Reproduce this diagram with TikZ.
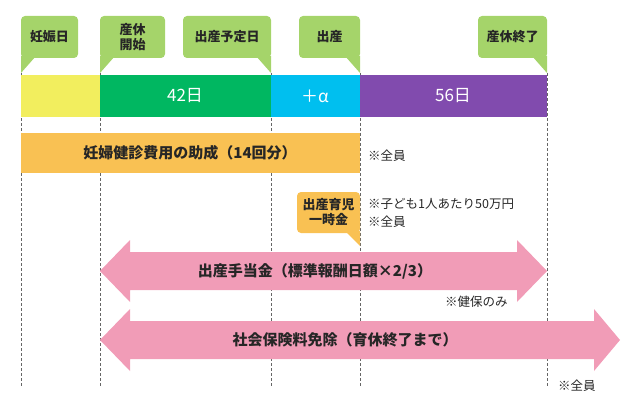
\documentclass[tikz,border=0pt]{standalone}
\usepackage{fontspec}
\setmainfont{Noto Sans CJK JP}
\begin{document}
\begin{tikzpicture}[x=1pt,y=-1pt,
  lbl/.style={font=\fontsize{13}{15}\selectfont\bfseries, text=black!85, align=center, inner sep=0pt},
  big/.style={font=\fontsize{15}{17}\selectfont\bfseries, text=black!85, inner sep=0pt},
  note/.style={font=\fontsize{12.5}{15}\selectfont, text=black!85, anchor=west, inner sep=0pt},
  bartxt/.style={font=\fontsize{17}{19}\selectfont, text=white, inner sep=0pt},
  guide/.style={densely dashed, gray!80!black, line width=0.6pt}]
\definecolor{cg}{HTML}{A5D46A}\definecolor{cy}{HTML}{F2EE5E}\definecolor{cgr}{HTML}{00B761}
\definecolor{cc}{HTML}{00BFEF}\definecolor{cp}{HTML}{814BAE}\definecolor{co}{HTML}{F9C153}
\definecolor{cpk}{HTML}{F19CB7}
\useasboundingbox (0,0) rectangle (640,409);
\foreach \x in {21,100,271,360,547} \draw[guide] (\x,73) -- (\x,387);
% bar
\fill[cy] (21,75) rectangle (100,117);
\fill[cgr] (100,75) rectangle (271,117);
\fill[cc] (271,75) rectangle (360,117);
\fill[cp] (360,75) rectangle (547,117);
\node[bartxt] (d42) at (185,96) {42日};
\node[bartxt] (da) at (315,96) {＋α};
\node[bartxt] (d56) at (453,96) {56日};
% callouts
\fill[cg,rounded corners=4pt] (21,16) rectangle (78,58);
\fill[cg] (21,56) -- (36,56) -- (21,73) -- cycle;
\node[lbl] (c1) at (49.5,37) {妊娠日};
\fill[cg,rounded corners=4pt] (100,16) rectangle (165,58);
\fill[cg] (100,56) -- (115,56) -- (100,73) -- cycle;
\node[lbl] (c2) at (132.5,37) {産休\\開始};
\fill[cg,rounded corners=4pt] (183,16) rectangle (271,58);
\fill[cg] (271,56) -- (256,56) -- (271,73) -- cycle;
\node[lbl] (c3) at (227,37) {出産予定日};
\fill[cg,rounded corners=4pt] (299,16) rectangle (360,58);
\fill[cg] (360,56) -- (345,56) -- (360,73) -- cycle;
\node[lbl] (c4) at (329.5,37) {出産};
\fill[cg,rounded corners=4pt] (478,16) rectangle (547,58);
\fill[cg] (547,56) -- (532,56) -- (547,73) -- cycle;
\node[lbl] (c5) at (512.5,37) {産休終了};
% subsidy
\fill[co] (21,133) rectangle (360,173);
\node[big] (sub) at (190,153) {妊婦健診費用の助成（14回分）};
\node[note] (n1) at (368,156) {※全員};
% lump sum
\fill[co,rounded corners=4pt] (297,192) rectangle (360,233);
\fill[co] (360,231) -- (345,231) -- (360,246) -- cycle;
\node[lbl] (ls) at (328.5,212.5) {出産育児\\一時金};
\node[note] (n2) at (368,204) {※子ども1人あたり50万円};
\node[note] (n3) at (368,222) {※全員};
% arrow 1
\fill[cpk] (100,271) -- (130,240) -- (130,252) -- (517,252) -- (517,240) -- (547,271) -- (517,302) -- (517,290) -- (130,290) -- (130,302) -- cycle;
\node[big] (a1) at (315,271) {出産手当金（標準報酬日額×2/3）};
\node[note] (n4) at (445,302) {※健保のみ};
% arrow 2
\fill[cpk] (100,340) -- (130,309) -- (130,321) -- (594,321) -- (594,309) -- (620,340) -- (594,371) -- (594,359) -- (130,359) -- (130,371) -- cycle;
\node[big] (a2) at (345,340) {社会保険料免除（育休終了まで）};
\node[note] (n5) at (558,386) {※全員};
\end{tikzpicture}
\end{document}
